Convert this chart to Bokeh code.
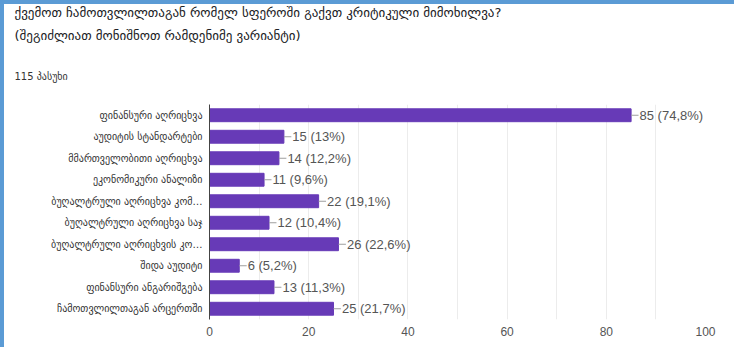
from bokeh.plotting import figure
from bokeh.models import ColumnDataSource, Title, FactorRange, SingleIntervalTicker
from bokeh.core.properties import value
from bokeh.embed import file_html
from bokeh.resources import INLINE

title_line1 = "ქვემოთ ჩამოთვლილთაგან რომელ სფეროში გაქვთ კრიტიკული მიმოხილვა?"
title_line2 = "(შეგიძლიათ მონიშნოთ რამდენიმე ვარიანტი)"
responses = "115 პასუხი"

categories = [
    "ფინანსური აღრიცხვა",
    "აუდიტის სტანდარტები",
    "მმართველობითი აღრიცხვა",
    "ეკონომიკური ანალიზი",
    "ბუღალტრული აღრიცხვა კომ…",
    "ბუღალტრული აღრიცხვა საჯ",
    "ბუღალტრული აღრიცხვის კო…",
    "შიდა აუდიტი",
    "ფინანსური ანგარიშგება",
    "ჩამოთვლილთაგან არცერთში",
]
counts = [85, 15, 14, 11, 22, 12, 26, 6, 13, 25]
percents = ["74,8%", "13%", "12,2%", "9,6%", "19,1%", "10,4%", "22,6%", "5,2%", "11,3%", "21,7%"]

labels = [f"{c} ({p})" for c, p in zip(counts, percents)]
src = ColumnDataSource(dict(cat=categories, val=counts, lab=labels,
                            x1=[c + 1.5 for c in counts]))

W, H = 734, 347
p = figure(width=W, height=H, output_backend="svg", toolbar_location=None,
           y_range=FactorRange(factors=categories[::-1]), x_range=(0, 100),
           min_border_left=209, min_border_right=29, min_border_top=0, min_border_bottom=28,
           styles={"box-shadow": "inset 0 4px 0 0 #5b9bd5, inset 4px 0 0 0 #5b9bd5"})
p.outline_line_color = None
p.background_fill_color = "white"
p.border_fill_color = None

p.hbar(y="cat", right="val", left=0, height=0.6, source=src, color="#673ab7")
p.segment(x0="val", y0="cat", x1="x1", y1="cat", source=src, line_color="#9e9e9e", line_width=1)
p.text(x="x1", y="cat", text="lab", source=src, text_font=value("Liberation Sans"),
       text_font_size="13px", text_color="#555555", text_baseline="middle", x_offset=1)

p.xaxis.ticker = SingleIntervalTicker(interval=20)
p.xgrid.ticker = SingleIntervalTicker(interval=10)
p.xgrid.grid_line_color = "#ececec"
p.ygrid.grid_line_color = None
p.xaxis.axis_line_color = None
p.xaxis.major_tick_line_color = None
p.xaxis.minor_tick_line_color = None
p.xaxis.major_label_text_font = "Liberation Sans"
p.xaxis.major_label_text_font_size = "12px"
p.xaxis.major_label_text_color = "#555555"
p.xaxis.major_label_standoff = 1

p.yaxis.axis_line_color = "#444444"
p.yaxis.major_tick_line_color = None
p.yaxis.minor_tick_line_color = None
p.yaxis.major_label_text_font = "DejaVu Sans"
p.yaxis.major_label_text_font_size = "10px"
p.yaxis.major_label_text_color = "#333333"
p.yaxis.major_label_standoff = 1

for txt, size, col, standoff in [(responses, "10px", "#333333", 45),
                                 (title_line2, "13px", "#202124", 8),
                                 (title_line1, "13px", "#202124", 4)]:
    p.add_layout(Title(text=txt, align="left", offset=-195, standoff=standoff,
                       text_font="DejaVu Sans", text_font_size=size, text_color=col,
                       text_font_style="normal"), "above")

open("out.html", "w").write(file_html(p, INLINE))
